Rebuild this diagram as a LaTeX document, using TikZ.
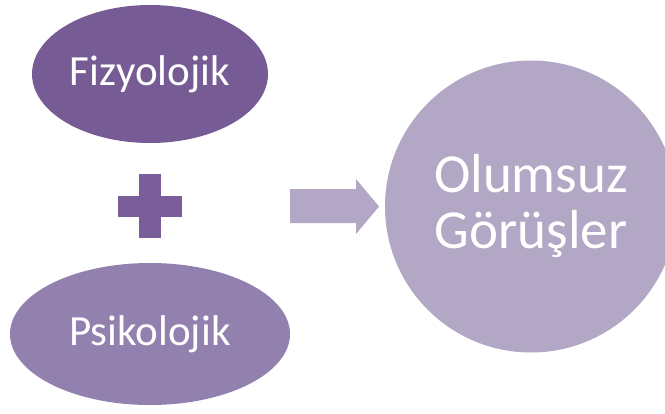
\documentclass[tikz,border=0pt]{standalone}
\usepackage{fontspec}
\setmainfont{Carlito}
\usetikzlibrary{shapes.geometric}

\definecolor{fizcolor}{HTML}{765B95}
\definecolor{psicolor}{HTML}{9280AE}
\definecolor{pluscolor}{HTML}{7A5E99}
\definecolor{softcolor}{HTML}{B2A7C5}

\tikzset{
  oval/.style={ellipse, inner sep=0pt, text=white, font=\fontsize{43}{48}\selectfont},
  bigcircle/.style={circle, fill=softcolor, inner sep=0pt, minimum size=292pt,
    text=white, align=center, font=\fontsize{55}{56}\selectfont}
}

\begin{document}
\begin{tikzpicture}[x=1pt, y=-1pt]
        \useasboundingbox (0,0) rectangle (665,413);
        \clip (0,0) rectangle (665,413);
        % left side
        \node[oval, fill=fizcolor, minimum width=236pt, minimum height=138pt] (fiz) at (150,74) {Fizyolojik};
        \node[oval, fill=psicolor, minimum width=280pt, minimum height=142pt] (psi) at (150,334) {Psikolojik};
        \fill[pluscolor] (139,174) rectangle (161,238);
        \fill[pluscolor] (118,196) rectangle (182,217);
        % arrow
        \fill[softcolor] (290,189) -- (356,189) -- (356,179) -- (379,206.5) -- (356,234) -- (356,223) -- (290,223) -- cycle;
        % result
        \node[bigcircle] (sonuc) at (531,206.5) {Olumsuz\\Görüşler};
    \end{tikzpicture}
\end{document}
